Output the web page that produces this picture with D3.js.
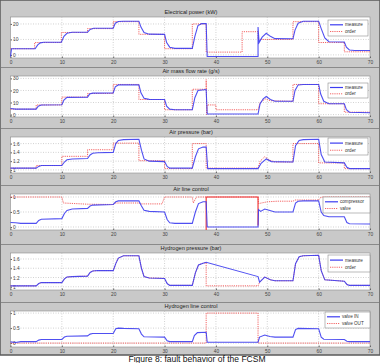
<!DOCTYPE html>
<html>
<head>
<meta charset="utf-8">
<script src="https://cdn.jsdelivr.net/npm/d3@7"></script>
<style>
body { margin: 0; background: #fff; }
svg text { font-family: "Liberation Sans", Arial, sans-serif; }
</style>
</head>
<body>
<svg id="chart" width="380" height="363"></svg>
<script>
// time axis (s)
var xTicks = [0, 10, 20, 30, 40, 50, 60, 70];

// Electrical power (kW)
var powerMeasure = [[0,-1],[0.2,4],[4.8,4],[5.3,6.5],[5.8,7.8],[6.5,8.2],[9.9,8.2],[10.4,12],[11,14],[12,14.6],[15,14.7],[15.5,16.5],[16.2,17.2],[20,17.3],[20.4,20.5],[21,21.6],[22,21.8],[25,21.8],[25.4,18],[26,14.5],[27,13.4],[30,13.3],[30.4,8],[31,5],[32,4.2],[35.4,4.2],[35.9,12],[36.5,19],[37.2,20.2],[38.1,20.2],[38.3,-1],[48.2,-1],[48.2,18],[48.4,8],[49,11.5],[49.8,14],[50.6,12],[51.5,10.5],[55,10.4],[55.4,16],[56,20.5],[57,21.8],[60,21.8],[60.5,17],[61.2,11],[62,8.5],[65,8.3],[65.4,5],[66,3.2],[67,2.8],[70,2.8]];
var powerOrder = [[0,4],[4.7,4],[4.7,8],[9.9,8],[9.9,14.5],[15,14.5],[15,17],[20,17],[20,21.5],[25,21.5],[25,13.3],[30,13.3],[30,4],[35.4,4],[35.4,20],[38.1,20],[38.1,1.8],[45.1,1.8],[45.1,15],[48.2,15],[48.2,10],[55,10],[55,21.5],[60,21.5],[60,8],[65,8],[65,2],[70,2]];
var powerTicks = [0, 10, 20];

// Air mass flow rate (g/s)
var flowMeasure = [[0,5],[1,4.5],[5,4.5],[5.4,7],[6,8],[10,8.2],[10.4,12],[11,14.3],[15,14.5],[15.4,17],[16,17.8],[20,18],[20.4,23],[21,24.6],[25,24.6],[25.4,18],[26,13.5],[27,12.6],[30,12.5],[30.4,7],[31,4.5],[32,4],[35.4,4],[35.9,14],[36.5,20],[38.1,20.8],[38.3,0.5],[48.2,0.5],[48.6,9],[49.2,13],[49.8,15],[50.6,12.5],[51.5,11],[55,11],[55.4,20],[56,24.5],[57,25],[60,25],[60.4,17],[61,11],[62,9],[65,9],[65.4,4],[66,2],[70,1.5]];
var flowOrder = [[0,4.5],[5,4.5],[5,8],[10,8],[10,14.5],[15,14.5],[15,17.5],[20,17.5],[20,25],[25,25],[25,12.5],[30,12.5],[30,4],[35.4,4],[35.4,21],[38.1,21],[38.1,29],[38.2,0],[38.3,8],[40,8],[40,4],[48.2,4],[48.6,10],[49.6,13],[50.6,11.5],[55,11],[55,25],[60,25],[60,9],[65,9],[65,2],[70,2]];
var flowTicks = [0, 10, 20, 30];

// Air pressure (bar)
var presMeasure = [[0,1.04],[5,1.04],[5.5,1.08],[6,1.1],[10,1.1],[10.5,1.18],[11,1.23],[12,1.25],[15,1.26],[15.5,1.34],[16,1.38],[17,1.39],[20,1.4],[20.5,1.6],[21,1.67],[22,1.69],[25,1.7],[25.5,1.45],[26,1.25],[27,1.2],[30,1.19],[30.5,1.08],[31,1.04],[35.4,1.04],[36,1.3],[36.6,1.48],[37.5,1.52],[38.1,1.52],[38.4,1.03],[48.2,1.03],[48.8,1.15],[49.8,1.25],[50.8,1.19],[55,1.18],[55.5,1.55],[56.2,1.67],[57,1.69],[60,1.7],[60.5,1.35],[61.2,1.18],[65,1.16],[65.5,1.06],[66,1.03],[70,1.03]];
var presOrder = [[0,1.04],[5,1.04],[5,1.1],[10,1.1],[10,1.31],[15,1.31],[15,1.46],[20,1.46],[20,1.61],[25,1.61],[25,1.21],[30,1.21],[30,1.03],[35.4,1.03],[35.4,1.6],[38.1,1.6],[38.1,1.04],[48.2,1.04],[48.6,1.2],[49.5,1.3],[50.5,1.22],[51.5,1.18],[55,1.18],[55,1.6],[60,1.6],[60,1.16],[65,1.16],[65,1.03],[70,1.03]];
var presTicks = [1, 1.2, 1.4, 1.6];

// Air line control
var airCompressor = [[0,0.15],[1,0.14],[2,0.12],[5,0.12],[5.5,0.22],[6,0.26],[10,0.28],[10.5,0.45],[11,0.55],[12,0.6],[15,0.62],[15.5,0.7],[16,0.73],[20,0.75],[20.5,0.84],[21,0.87],[25,0.87],[25.5,0.7],[26,0.56],[27,0.52],[30,0.5],[30.5,0.25],[31,0.14],[32,0.12],[35.4,0.12],[36,0.5],[36.6,0.78],[37.5,0.84],[38.1,0.84],[38.3,0],[48.2,0],[48.3,0.58],[48.7,0.52],[49.5,0.6],[50.5,0.55],[51.5,0.5],[55,0.5],[55.5,0.8],[56,0.86],[57,0.87],[60,0.87],[60.5,0.5],[61,0.38],[62,0.34],[65,0.34],[65.5,0.15],[66,0.11],[70,0.1]];
var airValve = [[0,1],[10,1],[10.3,0.8],[15,0.76],[20,0.75],[20.3,0.8],[25,0.8],[25.3,0.77],[29.5,0.77],[30,1],[35.4,1],[35.6,0.8],[36.2,1],[38.1,1],[48.2,1],[48.3,0.78],[50,0.84],[52,0.86],[55,0.86],[55.4,0.9],[60,0.9],[60.5,1],[70,1]];
var airValveFault = [[38.1,-0.1],[38.1,1],[48.2,1],[48.2,0.05]];
var airTicks = [0, 0.5, 1];

// Hydrogen pressure (bar)
var h2Measure = [[0,1.02],[5,1.02],[5.5,1.07],[6,1.09],[10,1.09],[10.5,1.17],[11,1.21],[12,1.22],[15,1.23],[15.5,1.31],[16,1.34],[17,1.35],[20,1.35],[20.5,1.5],[21,1.62],[22,1.67],[25,1.67],[25.5,1.4],[26,1.22],[27,1.19],[30,1.18],[30.5,1.07],[31,1.03],[35.4,1.03],[36,1.3],[36.6,1.47],[37.5,1.51],[38.1,1.53],[48.2,1.22],[48.5,1.1],[49.5,1.21],[50.6,1.15],[51.5,1.13],[55,1.13],[55.5,1.5],[56.2,1.65],[57,1.67],[60,1.68],[60.5,1.35],[61.2,1.15],[65,1.12],[65.5,1.05],[66,1.03],[70,1.03]];
var h2Order = [[0,1.02],[5,1.02],[5.5,1.07],[6,1.09],[10,1.09],[10.5,1.17],[11,1.21],[12,1.22],[15,1.23],[15.5,1.31],[16,1.34],[17,1.35],[20,1.35],[20.5,1.5],[21,1.62],[22,1.67],[25,1.67],[25.5,1.4],[26,1.22],[27,1.19],[30,1.18],[30.5,1.07],[31,1.03],[35.4,1.03],[36,1.3],[36.6,1.47],[37.5,1.51],[38.1,1.52],[38.1,1.02],[48.2,1.02],[48.5,1.1],[49.5,1.21],[50.6,1.15],[51.5,1.13],[55,1.13],[55.5,1.5],[56.2,1.65],[57,1.67],[60,1.68],[60.5,1.35],[61.2,1.15],[65,1.12],[65.5,1.05],[66,1.03],[70,1.03]];
var h2Ticks = [1, 1.2, 1.4, 1.6];

// Hydrogen line control
var valveIn = [[0,0.04],[1,0.02],[2,0.05],[5,0.05],[5.5,0.1],[6,0.12],[10,0.12],[10.5,0.2],[11,0.23],[15,0.24],[15.5,0.3],[16,0.32],[20,0.32],[20.5,0.48],[21,0.5],[22,0.49],[25,0.48],[25.5,0.3],[26,0.21],[30,0.2],[30.5,0.08],[31,0.05],[35.4,0.05],[35.8,0.25],[36.4,0.35],[38.1,0.36],[38.3,0.03],[48.2,0.03],[48.5,0.2],[49.5,0.27],[50.5,0.22],[51.5,0.2],[55,0.2],[55.5,0.45],[56,0.49],[60,0.48],[60.5,0.2],[61,0.13],[65,0.12],[65.5,0.06],[66,0.05],[70,0.05]];
var valveOut = [[0,0],[38.1,0],[38.1,1],[48.2,1],[48.2,0],[70,0]];
var h2LineTicks = [0, 0.5, 1];

var BLUE = '#3c3cf0', RED = '#f03c3c';

var panels = [
  {title: 'Electrical power (kW)', top: 17, bottom: 58, domain: [-2, 24.5], ticks: powerTicks,
   series: [powerMeasure, powerOrder], names: ['measure', 'order'], legend: [328, 20, 40, 16]},
  {title: 'Air mass flow rate (g/s)', top: 76, bottom: 117, domain: [-2, 32], ticks: flowTicks,
   series: [flowMeasure, flowOrder], names: ['measure', 'order'], legend: [328, 83, 40, 15]},
  {title: 'Air pressure (bar)', top: 137, bottom: 173, domain: [0.93, 1.75], ticks: presTicks,
   series: [presMeasure, presOrder], names: ['measure', 'order'], legend: [328, 138, 40, 17]},
  {title: 'Air line control', top: 194, bottom: 230, domain: [-0.1, 1.1], ticks: airTicks,
   series: [airCompressor, airValve], names: ['compressor', 'valve'], legend: [323, 197, 47, 16], fault: airValveFault},
  {title: 'Hydrogen pressure (bar)', top: 253, bottom: 290, domain: [0.93, 1.73], ticks: h2Ticks,
   series: [h2Measure, h2Order], names: ['measure', 'order'], legend: [328, 255, 42, 17]},
  {title: 'Hydrogen line control', top: 311, bottom: 347, domain: [-0.13, 1.07], ticks: h2LineTicks,
   series: [valveIn, valveOut], names: ['valve IN', 'valve OUT'], legend: [325, 312, 45, 16]}
];

var svg = d3.select('#chart');

// figure background
svg.append('rect').attr('x', 0).attr('y', 0).attr('width', 380).attr('height', 355)
  .attr('fill', '#c9c9c9').attr('stroke', '#5a5a5a').attr('stroke-width', 1.5);

var x = d3.scaleLinear().domain([0, 70]).range([10.5, 370]);
var fmt = d3.format('~g');

panels.forEach(function (p, i) {
  var y = d3.scaleLinear().domain(p.domain).range([p.bottom, p.top]);
  var g = svg.append('g');

  if (i > 0) {
    g.append('line').attr('x1', 1).attr('x2', 379)
      .attr('y1', p.top - 8.5).attr('y2', p.top - 8.5)
      .attr('stroke', '#8a8a8a').attr('stroke-width', 1);
  }

  g.append('text').attr('x', 191).attr('y', p.top - 3)
    .attr('text-anchor', 'middle').attr('font-size', 5.6).attr('fill', '#222')
    .text(p.title);

  g.append('rect').attr('x', x(0)).attr('y', p.top)
    .attr('width', x(70) - x(0)).attr('height', p.bottom - p.top)
    .attr('fill', '#fff').attr('stroke', '#8c8c8c').attr('stroke-width', 0.6);

  // grid
  g.selectAll('.gx').data(xTicks.slice(1, -1)).enter().append('line')
    .attr('x1', d => x(d)).attr('x2', d => x(d)).attr('y1', p.top).attr('y2', p.bottom)
    .attr('stroke', '#b4b4b4').attr('stroke-width', 0.6).attr('stroke-dasharray', '1,1.5');
  g.selectAll('.gy').data(p.ticks).enter().append('line')
    .attr('x1', x(0)).attr('x2', x(70)).attr('y1', d => y(d)).attr('y2', d => y(d))
    .attr('stroke', '#b4b4b4').attr('stroke-width', 0.6).attr('stroke-dasharray', '1,1.5');

  // axes
  var ax = g.append('g').attr('transform', 'translate(0,' + p.bottom + ')')
    .call(d3.axisBottom(x).tickValues(xTicks).tickFormat(fmt)
      .tickSizeInner(-1.5).tickSizeOuter(0).tickPadding(2.5));
  ax.select('.domain').remove();
  ax.selectAll('text').attr('font-size', 4.8).attr('fill', '#444');
  ax.selectAll('line').attr('stroke', '#666');

  var ay = g.append('g').attr('transform', 'translate(' + x(0) + ',0)')
    .call(d3.axisLeft(y).tickValues(p.ticks).tickFormat(fmt)
      .tickSizeInner(-1.5).tickSizeOuter(0).tickPadding(0));
  ay.select('.domain').remove();
  ay.selectAll('text').attr('font-size', 4.8).attr('fill', '#444')
    .attr('text-anchor', 'start').attr('x', 2.5);
  ay.selectAll('line').attr('stroke', '#666');

  var line = d3.line().x(d => x(d[0])).y(d => y(d[1]));

  g.append('path').datum(p.series[1]).attr('d', line).attr('fill', 'none')
    .attr('stroke', RED).attr('stroke-width', 0.8).attr('stroke-dasharray', '1.2,1');
  if (p.fault) {
    g.append('path').datum(p.fault).attr('d', line).attr('fill', 'none')
      .attr('stroke', RED).attr('stroke-width', 1.2);
  }
  g.append('path').datum(p.series[0]).attr('d', line).attr('fill', 'none')
    .attr('stroke', BLUE).attr('stroke-width', 1.1).attr('stroke-opacity', 0.9);

  // legend
  var L = p.legend;
  var lg = g.append('g').attr('transform', 'translate(' + L[0] + ',' + L[1] + ')');
  lg.append('rect').attr('width', L[2]).attr('height', L[3])
    .attr('fill', '#fff').attr('stroke', '#777').attr('stroke-width', 0.5);
  p.names.forEach(function (n, k) {
    var yy = L[3] * (k === 0 ? 0.3 : 0.72);
    lg.append('line').attr('x1', 2).attr('x2', 15).attr('y1', yy).attr('y2', yy)
      .attr('stroke', k === 0 ? BLUE : RED).attr('stroke-width', k === 0 ? 1.2 : 0.8)
      .attr('stroke-dasharray', k === 0 ? null : '1.2,1');
    lg.append('text').attr('x', 17).attr('y', yy + 1.6).attr('font-size', 4.6)
      .attr('fill', '#333').text(n);
  });
});

// caption below the figure
svg.append('text').attr('x', 197).attr('y', 361.5).attr('text-anchor', 'middle')
  .attr('font-family', '"Liberation Serif", "Times New Roman", serif')
  .attr('font-size', 8.5).attr('fill', '#111')
  .text('Figure 8: fault behavior of the FCSM');
</script>
</body>
</html>
